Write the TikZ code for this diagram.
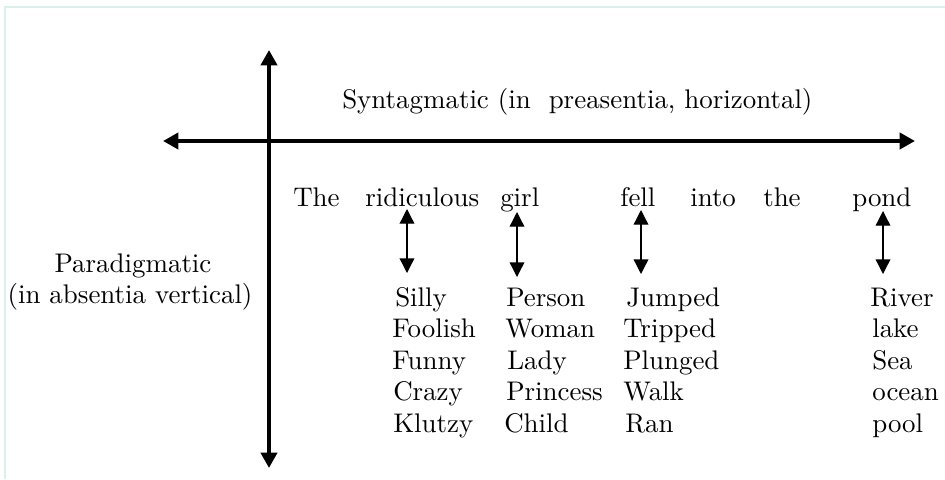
\documentclass[tikz,border=0pt]{standalone}
\usepackage{fontspec}
\setmainfont{lmroman10-regular}[Extension=.otf]
\usetikzlibrary{arrows.meta}
\definecolor{framecol}{RGB}{218,240,235}
\tikzset{
  word/.style={anchor=base west,inner sep=0pt,font=\fontsize{20.2pt}{24pt}\selectfont},
  axis/.style={line width=3pt,{Triangle[length=11.5pt,width=12pt]}-{Triangle[length=11.5pt,width=12pt]}},
  pair/.style={line width=1pt,{Triangle[length=11pt,width=11pt]}-{Triangle[length=11pt,width=11pt]}},
  frameline/.style={draw=framecol,line width=1.8pt}
}
\begin{document}
\begin{tikzpicture}[x=0.75pt,y=-0.75pt]
\useasboundingbox (0,0) rectangle (945,479);
% frame
\draw[frameline] (5,479) -- (5,7) -- (945,7);
% axes
\coordinate (vtop) at (269,50);
\coordinate (vbot) at (269,468);
\coordinate (hleft) at (163,141);
\coordinate (hright) at (915,141);
\draw[axis] (vtop) -- (vbot);
\draw[axis] (hleft) -- (hright);
% axis labels
\node[word] (synt) at (342,108) {Syntagmatic (in\ \ preasentia, horizontal)};
\node[word,anchor=base] (para1) at (133,272) {Paradigmatic};
\node[word,anchor=base] (para2) at (130,303) {(in absentia vertical)};
% sentence
\node[word] (w1) at (293,206) {The};
\node[word] (w2) at (365,206) {ridiculous};
\node[word] (w3) at (500,206) {girl};
\node[word] (w4) at (620,206) {fell};
\node[word] (w5) at (690,206) {into};
\node[word] (w6) at (763,206) {the};
\node[word] (w7) at (852,206) {pond};
% column 1
\node[word] (a1) at (395,306) {Silly};
\node[word] (a2) at (392,337.5) {Foolish};
\node[word] (a3) at (392,369) {Funny};
\node[word] (a4) at (393,400.5) {Crazy};
\node[word] (a5) at (393,432) {Klutzy};
% column 2
\node[word] (b1) at (506,306) {Person};
\node[word] (b2) at (505,337.5) {Woman};
\node[word] (b3) at (507,369) {Lady};
\node[word] (b4) at (506,400.5) {Princess};
\node[word] (b5) at (504,432) {Child};
% column 3
\node[word] (c1) at (626,306) {Jumped};
\node[word] (c2) at (623,337.5) {Tripped};
\node[word] (c3) at (623,369) {Plunged};
\node[word] (c4) at (623,400.5) {Walk};
\node[word] (c5) at (625,432) {Ran};
% column 4
\node[word] (d1) at (870,306) {River};
\node[word] (d2) at (872,337.5) {lake};
\node[word] (d3) at (872,369) {Sea};
\node[word] (d4) at (872,400.5) {ocean};
\node[word] (d5) at (872,432) {pool};
% small arrows
\coordinate (p1t) at (407,209); \coordinate (p1b) at (407,273);
\coordinate (p2t) at (517,212); \coordinate (p2b) at (517,277);
\coordinate (p3t) at (641,210); \coordinate (p3b) at (641,274);
\coordinate (p4t) at (883,211); \coordinate (p4b) at (883,274);
\draw[pair] (p1t) -- (p1b);
\draw[pair] (p2t) -- (p2b);
\draw[pair] (p3t) -- (p3b);
\draw[pair] (p4t) -- (p4b);
\end{tikzpicture}
\end{document}
